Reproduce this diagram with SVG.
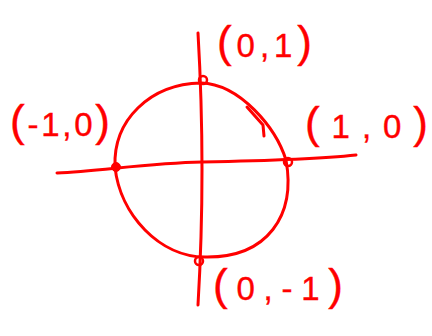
<svg xmlns="http://www.w3.org/2000/svg" width="432" height="336" viewBox="0 0 432 336">
<style>
.ink{fill:none;stroke:#ff0000;stroke-width:3;stroke-linecap:round;stroke-linejoin:round}
.pt{fill:none;stroke:#ff0000;stroke-width:2.5}
.dot{fill:#ff0000;stroke:#ff0000;stroke-width:1}
.lbl{font-family:"Liberation Sans",Arial,sans-serif;font-size:33px;fill:#ff0000;stroke:#ff0000;stroke-width:0.4}
.par{font-size:44px}
</style>
<rect width="432" height="336" fill="#ffffff"/>
<g id="axes">
<path class="ink" d="M198,33 Q206,170 198,305"/>
<path class="ink" d="M57,173 C100,171 150,163 202,162 S320,159 356,155"/>
</g>
<g id="circle">
<path class="ink" d="M201,83 C240,84 276,128 286,160 C296,215 268,258 205,257 C160,257 120,215 115,167 C113,120 150,84 201,83 Z"/>
<path class="ink" d="M247,107 L263,125 L264,136"/>
</g>
<g id="points">
<circle id="p-top" class="pt" cx="203" cy="80" r="4"/>
<circle id="p-right" class="pt" cx="288" cy="162" r="4"/>
<circle id="p-left" class="dot" cx="116" cy="167" r="4.5"/>
<circle id="p-bottom" class="pt" cx="199" cy="261" r="4"/>
</g>
<g id="labels">
<text id="l-top" class="lbl" x="217" y="57" textLength="95" lengthAdjust="spacing"><tspan class="par">(</tspan>0,1<tspan class="par">)</tspan></text>
<text id="l-right" class="lbl" x="305" y="138" textLength="123" lengthAdjust="spacing"><tspan class="par">(</tspan>1,0<tspan class="par">)</tspan></text>
<text id="l-left" class="lbl" x="10" y="136" textLength="100" lengthAdjust="spacing"><tspan class="par">(</tspan>-1,0<tspan class="par">)</tspan></text>
<text id="l-bottom" class="lbl" x="213" y="300" textLength="130" lengthAdjust="spacing"><tspan class="par">(</tspan>0,-1<tspan class="par">)</tspan></text>
</g>
</svg>
